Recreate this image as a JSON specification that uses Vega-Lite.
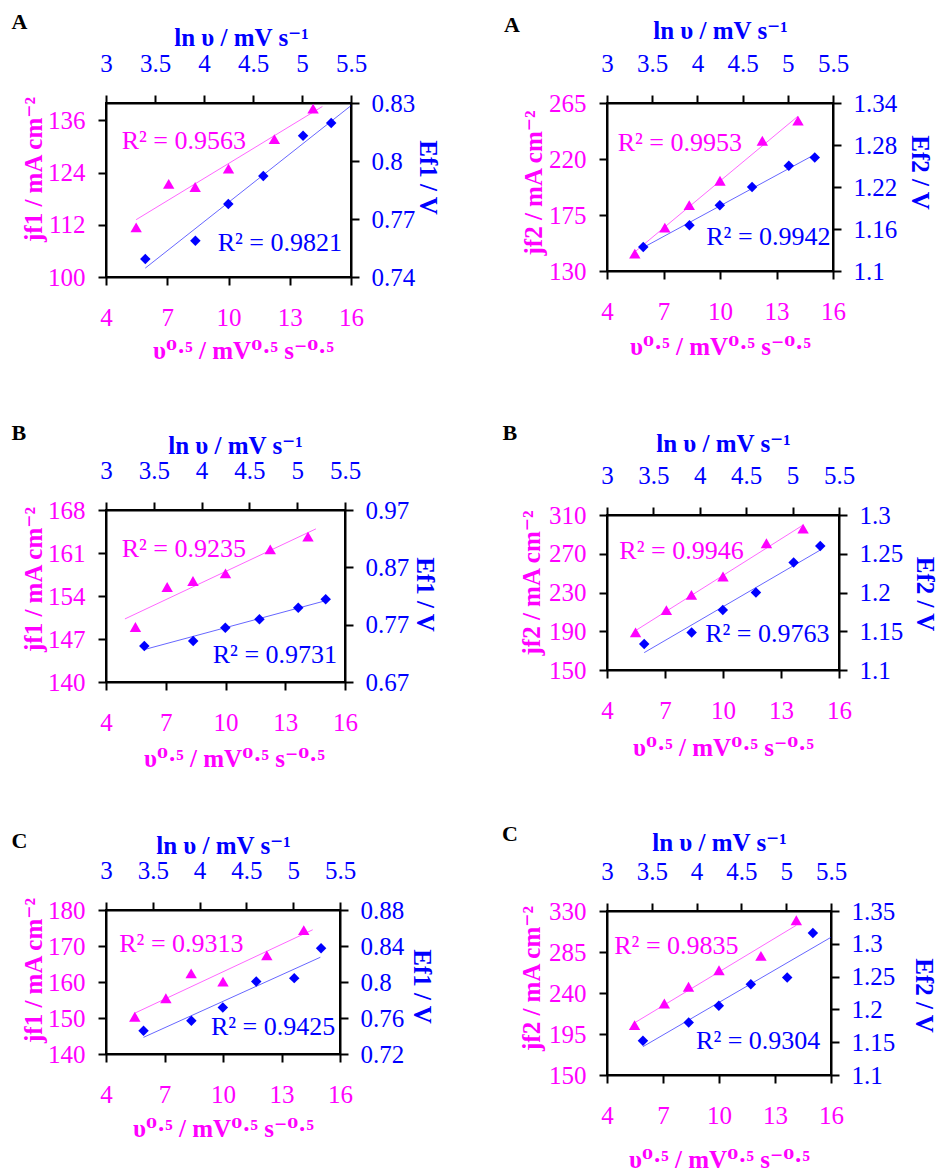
{
"$schema": "https://vega.github.io/schema/vega-lite/v6.json",
"background": "white",
"padding": {"left": 10, "top": 10, "right": 0, "bottom": 0},
"datasets": {
"AL": [{"v":30,"sq":5.477,"ln":3.401,"j":111.4,"E":0.7493},{"v":50,"sq":7.071,"ln":3.912,"j":121.4,"E":0.7587},{"v":70,"sq":8.367,"ln":4.248,"j":120.7,"E":0.7777},{"v":100,"sq":10,"ln":4.605,"j":124.9,"E":0.7923},{"v":150,"sq":12.247,"ln":5.011,"j":131.7,"E":0.813},{"v":200,"sq":14.142,"ln":5.298,"j":138.7,"E":0.8196}],
"AR": [{"v":30,"sq":5.477,"ln":3.401,"j":144.0,"E":1.1344},{"v":50,"sq":7.071,"ln":3.912,"j":164.9,"E":1.1654},{"v":70,"sq":8.367,"ln":4.248,"j":182.9,"E":1.194},{"v":100,"sq":10,"ln":4.605,"j":202.5,"E":1.22},{"v":150,"sq":12.247,"ln":5.011,"j":234.7,"E":1.2503},{"v":200,"sq":14.142,"ln":5.298,"j":250.8,"E":1.2622}],
"BL": [{"v":30,"sq":5.477,"ln":3.401,"j":148.95,"E":0.7328},{"v":50,"sq":7.071,"ln":3.912,"j":155.46,"E":0.7415},{"v":70,"sq":8.367,"ln":4.248,"j":156.44,"E":0.7648},{"v":100,"sq":10,"ln":4.605,"j":157.69,"E":0.7793},{"v":150,"sq":12.247,"ln":5.011,"j":161.6,"E":0.7997},{"v":200,"sq":14.142,"ln":5.298,"j":163.66,"E":0.8142}],
"BR": [{"v":30,"sq":5.477,"ln":3.401,"j":188.8,"E":1.1335},{"v":50,"sq":7.071,"ln":3.912,"j":211.8,"E":1.1485},{"v":70,"sq":8.367,"ln":4.248,"j":227.6,"E":1.1773},{"v":100,"sq":10,"ln":4.605,"j":246.5,"E":1.2},{"v":150,"sq":12.247,"ln":5.011,"j":280.8,"E":1.2386},{"v":200,"sq":14.142,"ln":5.298,"j":295.9,"E":1.26}],
"CL": [{"v":30,"sq":5.477,"ln":3.401,"j":150.35,"E":0.7459},{"v":50,"sq":7.071,"ln":3.912,"j":155.5,"E":0.757},{"v":70,"sq":8.367,"ln":4.248,"j":162.4,"E":0.7717},{"v":100,"sq":10,"ln":4.605,"j":160.1,"E":0.8006},{"v":150,"sq":12.247,"ln":5.011,"j":167.4,"E":0.8043},{"v":200,"sq":14.142,"ln":5.298,"j":174.4,"E":0.8375}],
"CR": [{"v":30,"sq":5.477,"ln":3.401,"j":204.8,"E":1.1522},{"v":50,"sq":7.071,"ln":3.912,"j":228.5,"E":1.1801},{"v":70,"sq":8.367,"ln":4.248,"j":246.8,"E":1.2055},{"v":100,"sq":10,"ln":4.605,"j":265.0,"E":1.2384},{"v":150,"sq":12.247,"ln":5.011,"j":280.7,"E":1.2486},{"v":200,"sq":14.142,"ln":5.298,"j":319.8,"E":1.3165}]
},
"config": {
"font": "Liberation Serif, DejaVu Serif",
"view": {"stroke": "#000000", "strokeWidth": 2},
"axis": {"labelFont": "Liberation Serif", "titleFont": "Liberation Serif, DejaVu Serif", "labelFontSize": 25, "titleFontSize": 25, "titleFontWeight": "bold", "labelFontWeight": "normal", "tickSize": 8, "tickWidth": 2, "tickColor": "#000000", "domainColor": "#000000", "domainWidth": 2, "grid": false, "labelFlush": false, "labelOverlap": false, "labelBound": false, "format": ".6~g"},
"axisBottom": {"labelColor": "#FF00FF", "titleColor": "#FF00FF", "labelPadding": 20},
"axisTop": {"labelColor": "#0000FF", "titleColor": "#0000FF", "labelPadding": 19},
"axisLeft": {"labelColor": "#FF00FF", "titleColor": "#FF00FF", "labelPadding": 13},
"axisRight": {"labelColor": "#0000FF", "titleColor": "#0000FF", "labelPadding": 12},
"title": {"font": "Liberation Serif", "fontSize": 22, "fontWeight": "bold", "color": "#000000", "anchor": "start", "frame": "bounds", "baseline": "top", "offset": -16},
"text": {"font": "Liberation Serif, DejaVu Serif", "fontSize": 26},
"point": {"opacity": 1, "filled": true}
},
"columns": 2,
"align": "none",
"spacing": 60,
"concat": [
{"spacing": 57, "vconcat": [
{"width": 245, "height": 174, "title": {"text": "A", "dx": -10, "offset": -9}, "data": {"name": "AL"}, "resolve": {"scale": {"x": "independent", "y": "independent"}},
 "layer": [
  {"encoding": {"x": {"field": "sq", "type": "quantitative", "scale": {"domain": [4, 16], "nice": false, "zero": false}, "axis": {"orient": "bottom", "values": [4,7,10,13,16], "title": "υ⁰·⁵ / mV⁰·⁵ s⁻⁰·⁵", "titlePadding": 8, "titleX": 137}},
   "y": {"field": "j", "type": "quantitative", "scale": {"domain": [100, 140], "nice": false, "zero": false}, "axis": {"orient": "left", "values": [100,112,124,136], "title": "jf1 / mA cm⁻²", "titlePadding": 1, "titleY": 66}}},
   "layer": [
    {"mark": {"type": "point", "shape": "triangle-up", "color": "#FF00FF", "size": 130}},
    {"transform": [{"regression": "j", "on": "sq", "extent": [5.477, 14.6]}], "mark": {"type": "line", "color": "#FF00FF", "strokeWidth": 1, "opacity": 0.6}},
    {"data": {"values": [{"sq": 4.77, "j": 131.35, "label": "R² = 0.9563"}]}, "mark": {"type": "text", "align": "left", "baseline": "middle", "color": "#FF00FF"}, "encoding": {"text": {"field": "label"}}},
    {"data": {"values": [{"sq": 9.47, "j": 107.9, "label": "R² = 0.9821"}]}, "mark": {"type": "text", "align": "left", "baseline": "middle", "color": "#0000FF"}, "encoding": {"text": {"field": "label"}}}
   ]},
  {"encoding": {"x": {"field": "ln", "type": "quantitative", "scale": {"domain": [3, 5.5], "nice": false, "zero": false}, "axis": {"orient": "top", "values": [3,3.5,4,4.5,5,5.5], "title": "ln υ / mV s⁻¹", "titlePadding": 1, "titleX": 135}},
   "y": {"field": "E", "type": "quantitative", "scale": {"domain": [0.74, 0.83], "nice": false, "zero": false}, "axis": {"orient": "right", "values": [0.74,0.77,0.8,0.83], "title": "Ef1 / V", "titlePadding": 0, "titleY": 74}}},
   "layer": [
    {"mark": {"type": "point", "shape": "diamond", "color": "#0000FF", "size": 110}},
    {"transform": [{"regression": "E", "on": "ln", "extent": [3.401, 5.5]}], "mark": {"type": "line", "color": "#0000FF", "strokeWidth": 1, "opacity": 0.6}}
   ]}
 ]},
{"width": 239, "height": 172, "title": {"text": "B", "dx": -10, "offset": -12}, "data": {"name": "BL"}, "resolve": {"scale": {"x": "independent", "y": "independent"}},
 "layer": [
  {"encoding": {"x": {"field": "sq", "type": "quantitative", "scale": {"domain": [4, 16], "nice": false, "zero": false}, "axis": {"orient": "bottom", "values": [4,7,10,13,16], "title": "υ⁰·⁵ / mV⁰·⁵ s⁻⁰·⁵", "titlePadding": 11, "titleX": 128}},
   "y": {"field": "j", "type": "quantitative", "scale": {"domain": [140, 168], "nice": false, "zero": false}, "axis": {"orient": "left", "values": [140,147,154,161,168], "title": "jf1 / mA cm⁻²", "titlePadding": 1, "titleY": 69}}},
   "layer": [
    {"mark": {"type": "point", "shape": "triangle-up", "color": "#FF00FF", "size": 130}},
    {"transform": [{"regression": "j", "on": "sq", "extent": [4.95, 14.54]}], "mark": {"type": "line", "color": "#FF00FF", "strokeWidth": 1, "opacity": 0.6}},
    {"data": {"values": [{"sq": 4.79, "j": 161.6, "label": "R² = 0.9235"}]}, "mark": {"type": "text", "align": "left", "baseline": "middle", "color": "#FF00FF"}, "encoding": {"text": {"field": "label"}}},
    {"data": {"values": [{"sq": 9.36, "j": 144.4, "label": "R² = 0.9731"}]}, "mark": {"type": "text", "align": "left", "baseline": "middle", "color": "#0000FF"}, "encoding": {"text": {"field": "label"}}}
   ]},
  {"encoding": {"x": {"field": "ln", "type": "quantitative", "scale": {"domain": [3, 5.5], "nice": false, "zero": false}, "axis": {"orient": "top", "values": [3,3.5,4,4.5,5,5.5], "title": "ln υ / mV s⁻¹", "titlePadding": 0, "titleX": 129}},
   "y": {"field": "E", "type": "quantitative", "scale": {"domain": [0.67, 0.97], "nice": false, "zero": false}, "axis": {"orient": "right", "values": [0.67,0.77,0.87,0.97], "title": "Ef1 / V", "titlePadding": 3, "titleY": 84}}},
   "layer": [
    {"mark": {"type": "point", "shape": "diamond", "color": "#0000FF", "size": 110}},
    {"transform": [{"regression": "E", "on": "ln", "extent": [3.401, 5.298]}], "mark": {"type": "line", "color": "#0000FF", "strokeWidth": 1, "opacity": 0.6}}
   ]}
 ]},
{"width": 234, "height": 144, "title": {"text": "C", "dx": -10, "offset": -20}, "data": {"name": "CL"}, "resolve": {"scale": {"x": "independent", "y": "independent"}},
 "layer": [
  {"encoding": {"x": {"field": "sq", "type": "quantitative", "scale": {"domain": [4, 16], "nice": false, "zero": false}, "axis": {"orient": "bottom", "values": [4,7,10,13,16], "title": "υ⁰·⁵ / mV⁰·⁵ s⁻⁰·⁵", "titlePadding": 9}},
   "y": {"field": "j", "type": "quantitative", "scale": {"domain": [140, 180], "nice": false, "zero": false}, "axis": {"orient": "left", "values": [140,150,160,170,180], "title": "jf1 / mA cm⁻²", "titlePadding": 1, "titleY": 60}}},
   "layer": [
    {"mark": {"type": "point", "shape": "triangle-up", "color": "#FF00FF", "size": 130}},
    {"transform": [{"regression": "j", "on": "sq", "extent": [5.477, 14.6]}], "mark": {"type": "line", "color": "#FF00FF", "strokeWidth": 1, "opacity": 0.6}},
    {"data": {"values": [{"sq": 4.68, "j": 170.5, "label": "R² = 0.9313"}]}, "mark": {"type": "text", "align": "left", "baseline": "middle", "color": "#FF00FF"}, "encoding": {"text": {"field": "label"}}},
    {"data": {"values": [{"sq": 9.38, "j": 147.6, "label": "R² = 0.9425"}]}, "mark": {"type": "text", "align": "left", "baseline": "middle", "color": "#0000FF"}, "encoding": {"text": {"field": "label"}}}
   ]},
  {"encoding": {"x": {"field": "ln", "type": "quantitative", "scale": {"domain": [3, 5.5], "nice": false, "zero": false}, "axis": {"orient": "top", "values": [3,3.5,4,4.5,5,5.5], "title": "ln υ / mV s⁻¹", "titlePadding": 0}},
   "y": {"field": "E", "type": "quantitative", "scale": {"domain": [0.72, 0.88], "nice": false, "zero": false}, "axis": {"orient": "right", "values": [0.72,0.76,0.8,0.84,0.88], "title": "Ef1 / V", "titlePadding": 5, "titleY": 76}}},
   "layer": [
    {"mark": {"type": "point", "shape": "diamond", "color": "#0000FF", "size": 110}},
    {"transform": [{"regression": "E", "on": "ln", "extent": [3.401, 5.29]}], "mark": {"type": "line", "color": "#0000FF", "strokeWidth": 1, "opacity": 0.6}}
   ]}
 ]}
]},
{"spacing": 61, "vconcat": [
{"width": 226, "height": 168, "title": {"text": "A", "dx": -17, "offset": -19}, "data": {"name": "AR"}, "resolve": {"scale": {"x": "independent", "y": "independent"}},
 "layer": [
  {"encoding": {"x": {"field": "sq", "type": "quantitative", "scale": {"domain": [4, 16], "nice": false, "zero": false}, "axis": {"orient": "bottom", "values": [4,7,10,13,16], "title": "υ⁰·⁵ / mV⁰·⁵ s⁻⁰·⁵", "titlePadding": 10}},
   "y": {"field": "j", "type": "quantitative", "scale": {"domain": [130, 265], "nice": false, "zero": false}, "axis": {"orient": "left", "values": [130,175,220,265], "title": "jf2 / mA cm⁻²", "titlePadding": 2.5, "titleY": 79.5}}},
   "layer": [
    {"mark": {"type": "point", "shape": "triangle-up", "color": "#FF00FF", "size": 130}},
    {"transform": [{"regression": "j", "on": "sq", "extent": [5.477, 14.142]}], "mark": {"type": "line", "color": "#FF00FF", "strokeWidth": 1, "opacity": 0.6}},
    {"data": {"values": [{"sq": 4.57, "j": 233, "label": "R² = 0.9953"}]}, "mark": {"type": "text", "align": "left", "baseline": "middle", "color": "#FF00FF"}, "encoding": {"text": {"field": "label"}}},
    {"data": {"values": [{"sq": 9.27, "j": 157.4, "label": "R² = 0.9942"}]}, "mark": {"type": "text", "align": "left", "baseline": "middle", "color": "#0000FF"}, "encoding": {"text": {"field": "label"}}}
   ]},
  {"encoding": {"x": {"field": "ln", "type": "quantitative", "scale": {"domain": [3, 5.5], "nice": false, "zero": false}, "axis": {"orient": "top", "values": [3,3.5,4,4.5,5,5.5], "title": "ln υ / mV s⁻¹", "titlePadding": 8}},
   "y": {"field": "E", "type": "quantitative", "scale": {"domain": [1.1, 1.34], "nice": false, "zero": false}, "axis": {"orient": "right", "values": [1.1,1.16,1.22,1.28,1.34], "title": "Ef2 / V", "titlePadding": 10, "titleY": 69}}},
   "layer": [
    {"mark": {"type": "point", "shape": "diamond", "color": "#0000FF", "size": 110}},
    {"transform": [{"regression": "E", "on": "ln", "extent": [3.401, 5.298]}], "mark": {"type": "line", "color": "#0000FF", "strokeWidth": 1, "opacity": 0.6}}
   ]}
 ]},
{"width": 232, "height": 155, "title": {"text": "B", "dx": -17, "offset": -14}, "data": {"name": "BR"}, "resolve": {"scale": {"x": "independent", "y": "independent"}},
 "layer": [
  {"encoding": {"x": {"field": "sq", "type": "quantitative", "scale": {"domain": [4, 16], "nice": false, "zero": false}, "axis": {"orient": "bottom", "values": [4,7,10,13,16], "title": "υ⁰·⁵ / mV⁰·⁵ s⁻⁰·⁵", "titlePadding": 12}},
   "y": {"field": "j", "type": "quantitative", "scale": {"domain": [150, 310], "nice": false, "zero": false}, "axis": {"orient": "left", "values": [150,190,230,270,310], "title": "jf2 / mA cm⁻²", "titlePadding": 4, "titleY": 67.5}}},
   "layer": [
    {"mark": {"type": "point", "shape": "triangle-up", "color": "#FF00FF", "size": 130}},
    {"transform": [{"regression": "j", "on": "sq", "extent": [5.477, 14.142]}], "mark": {"type": "line", "color": "#FF00FF", "strokeWidth": 1, "opacity": 0.6}},
    {"data": {"values": [{"sq": 4.64, "j": 272.9, "label": "R² = 0.9946"}]}, "mark": {"type": "text", "align": "left", "baseline": "middle", "color": "#FF00FF"}, "encoding": {"text": {"field": "label"}}},
    {"data": {"values": [{"sq": 9.08, "j": 187.1, "label": "R² = 0.9763"}]}, "mark": {"type": "text", "align": "left", "baseline": "middle", "color": "#0000FF"}, "encoding": {"text": {"field": "label"}}}
   ]},
  {"encoding": {"x": {"field": "ln", "type": "quantitative", "scale": {"domain": [3, 5.5], "nice": false, "zero": false}, "axis": {"orient": "top", "values": [3,3.5,4,4.5,5,5.5], "title": "ln υ / mV s⁻¹", "titlePadding": 7}},
   "y": {"field": "E", "type": "quantitative", "scale": {"domain": [1.1, 1.3], "nice": false, "zero": false}, "axis": {"orient": "right", "values": [1.1,1.15,1.2,1.25,1.3], "title": "Ef2 / V", "titlePadding": 9, "titleY": 78.5}}},
   "layer": [
    {"mark": {"type": "point", "shape": "diamond", "color": "#0000FF", "size": 110}},
    {"transform": [{"regression": "E", "on": "ln", "extent": [3.401, 5.298]}], "mark": {"type": "line", "color": "#0000FF", "strokeWidth": 1, "opacity": 0.6}}
   ]}
 ]},
{"width": 224, "height": 164, "title": {"text": "C", "dx": -17, "offset": -16}, "data": {"name": "CR"}, "resolve": {"scale": {"x": "independent", "y": "independent"}},
 "layer": [
  {"encoding": {"x": {"field": "sq", "type": "quantitative", "scale": {"domain": [4, 16], "nice": false, "zero": false}, "axis": {"orient": "bottom", "values": [4,7,10,13,16], "title": "υ⁰·⁵ / mV⁰·⁵ s⁻⁰·⁵", "titlePadding": 19}},
   "y": {"field": "j", "type": "quantitative", "scale": {"domain": [150, 330], "nice": false, "zero": false}, "axis": {"orient": "left", "values": [150,195,240,285,330], "title": "jf2 / mA cm⁻²", "titlePadding": 4.5, "titleY": 67}}},
   "layer": [
    {"mark": {"type": "point", "shape": "triangle-up", "color": "#FF00FF", "size": 130}},
    {"transform": [{"regression": "j", "on": "sq", "extent": [5.477, 14.142]}], "mark": {"type": "line", "color": "#FF00FF", "strokeWidth": 1, "opacity": 0.6}},
    {"data": {"values": [{"sq": 4.39, "j": 291.3, "label": "R² = 0.9835"}]}, "mark": {"type": "text", "align": "left", "baseline": "middle", "color": "#FF00FF"}, "encoding": {"text": {"field": "label"}}},
    {"data": {"values": [{"sq": 8.77, "j": 187.6, "label": "R² = 0.9304"}]}, "mark": {"type": "text", "align": "left", "baseline": "middle", "color": "#0000FF"}, "encoding": {"text": {"field": "label"}}}
   ]},
  {"encoding": {"x": {"field": "ln", "type": "quantitative", "scale": {"domain": [3, 5.5], "nice": false, "zero": false}, "axis": {"orient": "top", "values": [3,3.5,4,4.5,5,5.5], "title": "ln υ / mV s⁻¹", "titlePadding": 4}},
   "y": {"field": "E", "type": "quantitative", "scale": {"domain": [1.1, 1.35], "nice": false, "zero": false}, "axis": {"orient": "right", "values": [1.1,1.15,1.2,1.25,1.3,1.35], "title": "Ef2 / V", "titlePadding": 16, "titleY": 84}}},
   "layer": [
    {"mark": {"type": "point", "shape": "diamond", "color": "#0000FF", "size": 110}},
    {"transform": [{"regression": "E", "on": "ln", "extent": [3.401, 5.5]}], "mark": {"type": "line", "color": "#0000FF", "strokeWidth": 1, "opacity": 0.6}}
   ]}
 ]}
]}
]
}
